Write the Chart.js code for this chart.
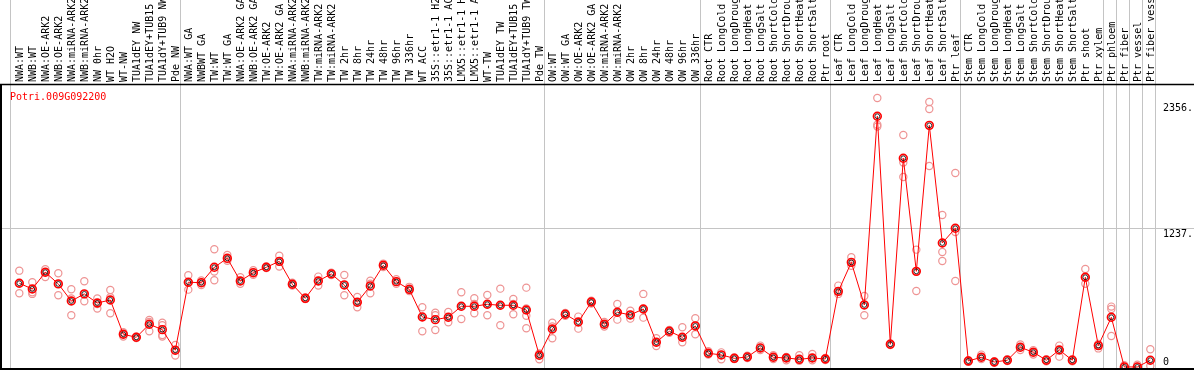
<!DOCTYPE html>
<html>
<head>
<meta charset="utf-8">
<script src="https://cdn.jsdelivr.net/npm/chart.js@4"></script>
<style>
  html, body { margin: 0; padding: 0; background: #fff; }
  #wrap { width: 1194px; height: 370px; position: relative; }
</style>
</head>
<body>
<div id="wrap"><canvas id="chart"></canvas></div>
<script>
const geneId = 'Potri.009G092200';

const samples = [
  'NWA:WT', 'NWB:WT', 'NWA:OE-ARK2', 'NWB:OE-ARK2', 'NWA:miRNA-ARK2', 'NWB:miRNA-ARK2',
  'NW 0hr', 'WT H2O', 'WT-NW', 'TUA1dEY NW', 'TUA1dEY+TUB15', 'TUA1dY+TUB9 NW', 'Pde NW',
  'NWA:WT GA', 'NWBWT GA', 'TW:WT', 'TW:WT GA', 'NWA:OE-ARK2 GA', 'NWB:OE-ARK2 GA',
  'TW:OE-ARK2', 'TW:OE-ARK2 GA', 'NWA:miRNA-ARK2', 'NWB:miRNA-ARK2', 'TW:miRNA-ARK2',
  'TW:miRNA-ARK2', 'TW 2hr', 'TW 8hr', 'TW 24hr', 'TW 48hr', 'TW 96hr', 'TW 336hr',
  'WT ACC', '35S::etr1-1 H2', '35S::etr1-1 AC', 'LMX5::etr1-1 H', 'LMX5::etr1-1 A',
  'WT-TW', 'TUA1dEY TW', 'TUA1dEY+TUB15', 'TUA1dY+TUB9 TW', 'Pde TW',
  'OW:WT', 'OW:WT GA', 'OW:OE-ARK2', 'OW:OE-ARK2 GA', 'OW:miRNA-ARK2', 'OW:miRNA-ARK2',
  'OW 2hr', 'OW 8hr', 'OW 24hr', 'OW 48hr', 'OW 96hr', 'OW 336hr',
  'Root CTR', 'Root LongCold', 'Root LongDrought', 'Root LongHeat', 'Root LongSalt',
  'Root ShortCold', 'Root ShortDrought', 'Root ShortHeat', 'Root ShortSalt', 'Ptr root',
  'Leaf CTR', 'Leaf LongCold', 'Leaf LongDrought', 'Leaf LongHeat', 'Leaf LongSalt',
  'Leaf ShortCold', 'Leaf ShortDrought', 'Leaf ShortHeat', 'Leaf ShortSalt', 'Ptr leaf',
  'Stem CTR', 'Stem LongCold', 'Stem LongDrought', 'Stem LongHeat', 'Stem LongSalt',
  'Stem ShortCold', 'Stem ShortDrought', 'Stem ShortHeat', 'Stem ShortSalt', 'Ptr shoot',
  'Ptr xylem', 'Ptr phloem', 'Ptr fiber', 'Ptr vessel', 'Ptr fiber vessel'
];

// mean expression per sample
const means = [
  745, 694, 843, 739, 587, 650, 569, 596, 291, 264, 380, 332, 149,
  754, 750, 887, 967, 765, 839, 887, 940, 736, 611, 765, 828, 730, 576, 721, 905, 759, 691,
  445, 421, 442, 540, 540, 558, 549, 549, 507, 104,
  338, 469, 400, 578, 380, 487, 463, 516, 220, 318, 264, 365,
  122, 107, 77, 89, 169, 86, 80, 68, 80, 71,
  673, 931, 552, 2231, 202, 1857, 851, 2150, 1103, 1234,
  53, 86, 44, 60, 175, 131, 60, 151, 60, 798,
  190, 442, 0, 0, 60
];

// individual replicates per sample
const replicates = [
  [857, 745, 656], [754, 650, 665], [870, 843, 800], [834, 739, 638], [691, 610, 460],
  [763, 650, 585], [610, 560, 520], [685, 620, 478], [310, 291, 270], [270, 264, 258],
  [418, 400, 318], [394, 371, 285, 270], [196, 149, 101],
  [816, 754, 688], [770, 750, 730], [1047, 850, 771], [997, 960, 945], [798, 765, 740],
  [860, 839, 820], [895, 887, 880], [990, 940, 893], [750, 736, 725], [618, 611, 604],
  [804, 765, 724], [838, 828, 818], [819, 730, 638], [623, 576, 531], [768, 740, 656],
  [920, 905, 890], [780, 759, 740], [713, 691, 675],
  [531, 445, 318], [483, 460, 329], [489, 442, 398], [665, 540, 427], [611, 560, 478],
  [641, 558, 460], [697, 549, 371], [605, 560, 469], [706, 520, 455, 344], [120, 104, 68],
  [394, 360, 255], [480, 469, 455], [448, 400, 341], [590, 578, 565], [400, 380, 360],
  [561, 487, 421], [500, 463, 430], [650, 516, 439], [255, 220, 187], [330, 318, 305],
  [353, 264, 220], [433, 365, 291],
  [140, 122, 110], [130, 107, 68], [85, 77, 70], [100, 89, 80], [190, 169, 150],
  [105, 86, 70], [90, 80, 60], [105, 68, 55], [115, 80, 60], [80, 71, 62],
  [724, 673, 650], [976, 931, 900], [632, 552, 460], [2393, 2156, 2140], [210, 202, 195],
  [2064, 1820, 1691], [1044, 851, 676], [2358, 2295, 1788], [1352, 1023, 943], [1726, 1201, 765],
  [60, 53, 45], [110, 86, 70], [50, 44, 38], [68, 60, 52], [200, 175, 150],
  [150, 131, 110], [70, 60, 50], [190, 151, 92], [70, 60, 50], [872, 798, 740],
  [205, 190, 165], [537, 516, 276], [15, 0, 0], [20, 0, 0], [157, 60, 9]
];

// last sample index of each tissue block
const groupEnds = [12, 40, 52, 62, 72, 83, 84, 85, 86, 87];
const yTicks = [0, 1237, 2356];

const FONT = '10px "DejaVu Sans Mono", "Liberation Mono", monospace';

const decorPlugin = {
  id: 'decor',
  beforeDatasetsDraw(chart) {
    const { ctx, chartArea: a, scales: { x, y } } = chart;
    const W = chart.width;
    ctx.save();
    ctx.strokeStyle = '#c4c4c4';
    ctx.lineWidth = 1;
    // block separators, running through the label strip too
    const seps = [-0.72].concat(groupEnds.map(e => e + 0.38));
    seps.forEach(v => {
      const px = Math.round(x.getPixelForValue(v)) + 0.5;
      ctx.beginPath();
      ctx.moveTo(px, 0);
      ctx.lineTo(px, a.bottom);
      ctx.stroke();
    });
    // middle horizontal guide
    const gy = Math.round(y.getPixelForValue(yTicks[1])) + 0.5;
    ctx.beginPath();
    ctx.moveTo(0, gy);
    ctx.lineTo(W, gy);
    ctx.stroke();
    ctx.restore();
  },
  afterDraw(chart) {
    const { ctx, chartArea: a, scales: { x, y } } = chart;
    const W = chart.width;
    ctx.save();
    // frame
    ctx.strokeStyle = '#000';
    ctx.lineWidth = 1.5;
    ctx.beginPath();
    ctx.moveTo(0, a.top + 0.5);
    ctx.lineTo(W, a.top + 0.5);
    ctx.stroke();
    ctx.lineWidth = 2;
    ctx.beginPath();
    ctx.moveTo(1, a.top);
    ctx.lineTo(1, a.bottom);
    ctx.moveTo(0, a.bottom - 1);
    ctx.lineTo(W, a.bottom - 1);
    ctx.stroke();

    // sample labels, vertical
    ctx.font = FONT;
    ctx.fillStyle = '#000';
    ctx.textAlign = 'left';
    ctx.textBaseline = 'middle';
    samples.forEach((s, i) => {
      ctx.save();
      ctx.translate(x.getPixelForValue(i) + 1, a.top - 2);
      ctx.rotate(-Math.PI / 2);
      ctx.fillText(s, 0, 0);
      ctx.restore();
    });

    // value labels on the right
    yTicks.forEach(v => {
      const py = y.getPixelForValue(v);
      ctx.textBaseline = v === 0 ? 'bottom' : 'top';
      ctx.fillText(v === 0 ? '0' : v + '.', 1163, v === 0 ? py : py + 1);
    });

    // gene id
    ctx.fillStyle = '#ff0000';
    ctx.textBaseline = 'middle';
    ctx.fillText(geneId, 10, 97);
    ctx.restore();
  }
};

const repPoints = replicates.flatMap((r, i) => r.map(v => ({ x: i, y: v })));
const meanPoints = means.map((v, i) => ({ x: i, y: v }));

new Chart(document.getElementById('chart'), {
  type: 'scatter',
  data: {
    datasets: [
      {
        label: 'mean core',
        data: meanPoints,
        showLine: false,
        pointRadius: 2.4,
        pointBorderWidth: 0.8,
        pointBorderColor: '#000',
        pointBackgroundColor: 'rgba(0,0,0,0)',
        order: 1
      },
      {
        label: 'mean',
        data: meanPoints,
        showLine: true,
        borderColor: '#ff0000',
        borderWidth: 1,
        pointRadius: 3.9,
        pointBorderWidth: 1.6,
        pointBorderColor: '#ff0000',
        pointBackgroundColor: 'rgba(0,0,0,0)',
        order: 2
      },
      {
        label: 'replicates',
        data: repPoints,
        showLine: false,
        pointRadius: 3.6,
        pointBorderWidth: 1.2,
        pointBorderColor: '#ee9494',
        pointBackgroundColor: 'rgba(0,0,0,0)',
        order: 3
      }
    ]
  },
  options: {
    responsive: true,
    maintainAspectRatio: false,
    animation: false,
    layout: { autoPadding: false, padding: { top: 84, left: 0, right: 0, bottom: 0 } },
    scales: {
      x: { type: 'linear', min: -1.485, max: 90.36, display: false },
      y: { type: 'linear', min: -27, max: 2518, display: false }
    },
    plugins: {
      legend: { display: false },
      tooltip: { enabled: false }
    }
  },
  plugins: [decorPlugin]
});
</script>
</body>
</html>
